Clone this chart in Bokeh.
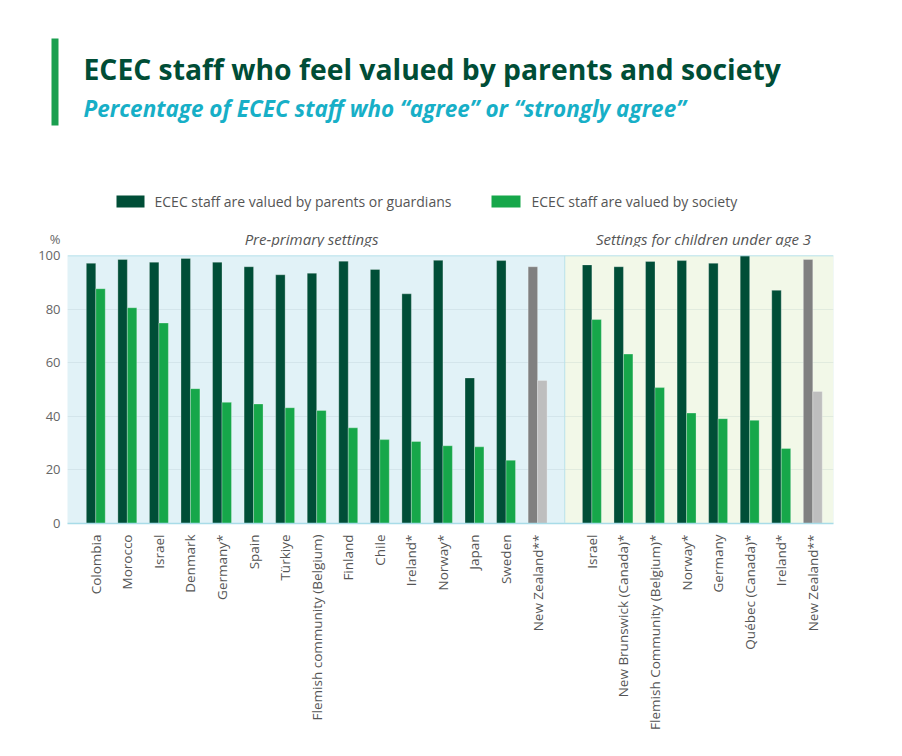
import math
from bokeh.plotting import figure
from bokeh.models import ColumnDataSource, Range1d, FixedTicker, Span, BoxAnnotation
from bokeh.layouts import column
from bokeh.core.properties import value
from bokeh.embed import file_html
from bokeh.resources import INLINE

# ---- data -----------------------------------------------------------------
pre_countries = ["Colombia", "Morocco", "Israel", "Denmark", "Germany*", "Spain",
                 "Türkiye", "Flemish community (Belgium)", "Finland", "Chile",
                 "Ireland*", "Norway*", "Japan", "Sweden", "New Zealand**"]
pre_parents = [97.1, 98.5, 97.5, 98.9, 97.5, 95.8, 92.8, 93.4, 97.9, 94.8,
               85.7, 98.2, 54.3, 98.1, 95.8]
pre_society = [87.6, 80.5, 74.8, 50.3, 45.2, 44.6, 43.2, 42.2, 35.7, 31.3,
               30.6, 29.0, 28.6, 23.6, 53.4]

u3_countries = ["Israel", "New Brunswick (Canada)*", "Flemish Community (Belgium)*",
                "Norway*", "Germany", "Québec (Canada)*", "Ireland*", "New Zealand**"]
u3_parents = [96.5, 95.8, 97.8, 98.1, 97.1, 99.9, 87.0, 98.5]
u3_society = [76.1, 63.2, 50.7, 41.2, 39.1, 38.5, 28.0, 49.3]

series_names = ["ECEC staff are valued by parents or guardians",
                "ECEC staff are valued by society"]
panel_names = ["Pre-primary settings", "Settings for children under age 3"]
y_ticks = [0, 20, 40, 60, 80, 100]

# ---- styling ----------------------------------------------------------------
FONT = value("Open Sans")
DARK = "#004E37"
LIGHT = "#16A74A"
GREY_DARK = "#808080"
GREY_LIGHT = "#BEBEBE"
BG_PRE = "#E1F2F7"
BG_U3 = "#F2F8E8"
EDGE = "#A8DCE8"
TEXT = "#555555"

W = 902
TOP_H = 247
GAP = 0.72          # extra space between the two panels (in category widths)
BAR_W = 0.30

# ---- positions ----------------------------------------------------------------
countries = pre_countries + u3_countries
parents = pre_parents + u3_parents
society = pre_society + u3_society
xpos = [float(i) for i in range(len(pre_countries))] + \
       [float(len(pre_countries) + GAP + j) for j in range(len(u3_countries))]
divider = (xpos[len(pre_countries) - 1] + xpos[len(pre_countries)]) / 2

is_nz = [c.endswith("**") for c in countries]
src = ColumnDataSource(dict(
    x_par=[x - BAR_W / 2 for x in xpos],
    x_soc=[x + BAR_W / 2 for x in xpos],
    parents=parents,
    society=society,
    c_par=[GREY_DARK if n else DARK for n in is_nz],
    c_soc=[GREY_LIGHT if n else LIGHT for n in is_nz],
))

# ---- main chart ---------------------------------------------------------------
p = figure(width=W, height=756 - TOP_H, output_backend="svg", toolbar_location=None,
           x_range=Range1d(-0.896, xpos[-1] + 0.656), y_range=Range1d(0, 100),
           min_border_left=67, min_border_right=69, min_border_top=8,
           min_border_bottom=233)
p.background_fill_color = BG_PRE
p.border_fill_color = "white"
p.outline_line_color = None

p.add_layout(BoxAnnotation(left=divider, fill_color=BG_U3, fill_alpha=1,
                           line_color=None, level="image"))

p.vbar(x="x_par", top="parents", width=BAR_W, bottom=0, source=src,
       fill_color="c_par", line_color="white", line_alpha=0.35, line_width=0.8)
p.vbar(x="x_soc", top="society", width=BAR_W, bottom=0, source=src,
       fill_color="c_soc", line_color="white", line_alpha=0.35, line_width=0.8)

p.add_layout(Span(location=100, dimension="width", line_color=EDGE, line_width=1.5))
p.add_layout(Span(location=divider, dimension="height", line_color="#B9E2EA",
                  line_width=1))

p.xgrid.visible = False
p.ygrid.ticker = FixedTicker(ticks=[20, 40, 60, 80])
p.ygrid.grid_line_color = "#7f9fa3"
p.ygrid.grid_line_alpha = 0.14

p.yaxis.ticker = FixedTicker(ticks=y_ticks)
p.yaxis.axis_line_color = None
p.yaxis.major_tick_line_color = None
p.yaxis.major_tick_out = 0
p.yaxis.minor_tick_line_color = None
p.yaxis.major_label_standoff = 7
p.yaxis.major_label_text_font = "Open Sans"
p.yaxis.major_label_text_font_size = "13px"
p.yaxis.major_label_text_color = "#666666"

p.xaxis.ticker = FixedTicker(ticks=xpos)
p.xaxis.major_label_overrides = {x: c for x, c in zip(xpos, countries)}
p.xaxis.major_label_orientation = math.pi / 2
p.xaxis.axis_line_color = EDGE
p.xaxis.axis_line_width = 1.5
p.xaxis.major_tick_line_color = None
p.xaxis.major_tick_out = 0
p.xaxis.minor_tick_line_color = None
p.xaxis.major_label_standoff = 11
p.xaxis.major_label_text_font = "Open Sans"
p.xaxis.major_label_text_font_size = "13.5px"
p.xaxis.major_label_text_color = TEXT

# ---- heading, legend and panel titles (pixel coordinates, y downwards) ------------
t = figure(width=W, height=TOP_H, output_backend="svg", toolbar_location=None,
           x_range=Range1d(0, W), y_range=Range1d(TOP_H, 0),
           x_axis_location=None, y_axis_location=None,
           min_border=0, min_border_left=0, min_border_right=0,
           min_border_top=0, min_border_bottom=0)
t.outline_line_color = None
t.grid.visible = False
t.background_fill_color = "white"
t.border_fill_color = "white"

# keep the heading canvas independent of the chart's frame
for fig in (t, p):
    if "frame_align" in fig.properties():
        fig.frame_align = False

t.quad(left=[51], right=[58], top=[38], bottom=[125], fill_color="#1A9F4F",
       line_color=None)
t.text(x=[83], y=[68], text=["ECEC staff who feel valued by parents and society"],
       text_font=FONT, text_font_style="bold", text_font_size="28.3px",
       text_color="#004D36", text_baseline="alphabetic")
t.text(x=[83], y=[108],
       text=["Percentage of ECEC staff who \u201cagree\u201d or \u201cstrongly agree\u201d"],
       text_font=FONT, text_font_style="bold italic", text_font_size="22.5px",
       text_color="#17AFC7", text_baseline="alphabetic")

# legend
t.quad(left=[116, 491], right=[144, 520], top=[195, 195], bottom=[207, 207],
       fill_color=[DARK, LIGHT], line_color=None)
t.text(x=[154, 531], y=[201, 201], text=series_names, text_font=FONT,
       text_font_size="14px", text_color=TEXT, text_baseline="middle")

# axis unit and panel titles
t.text(x=[60], y=[238], text=["%"], text_font=FONT, text_font_size="13px",
       text_color="#666666", text_baseline="middle", text_align="right")
t.text(x=[311, 703], y=[238, 238], text=panel_names, text_font=FONT,
       text_font_style="italic", text_font_size="15px", text_color=TEXT,
       text_baseline="middle", text_align="center")

layout = column(t, p, spacing=0)
open("out.html", "w").write(file_html(layout, INLINE))
